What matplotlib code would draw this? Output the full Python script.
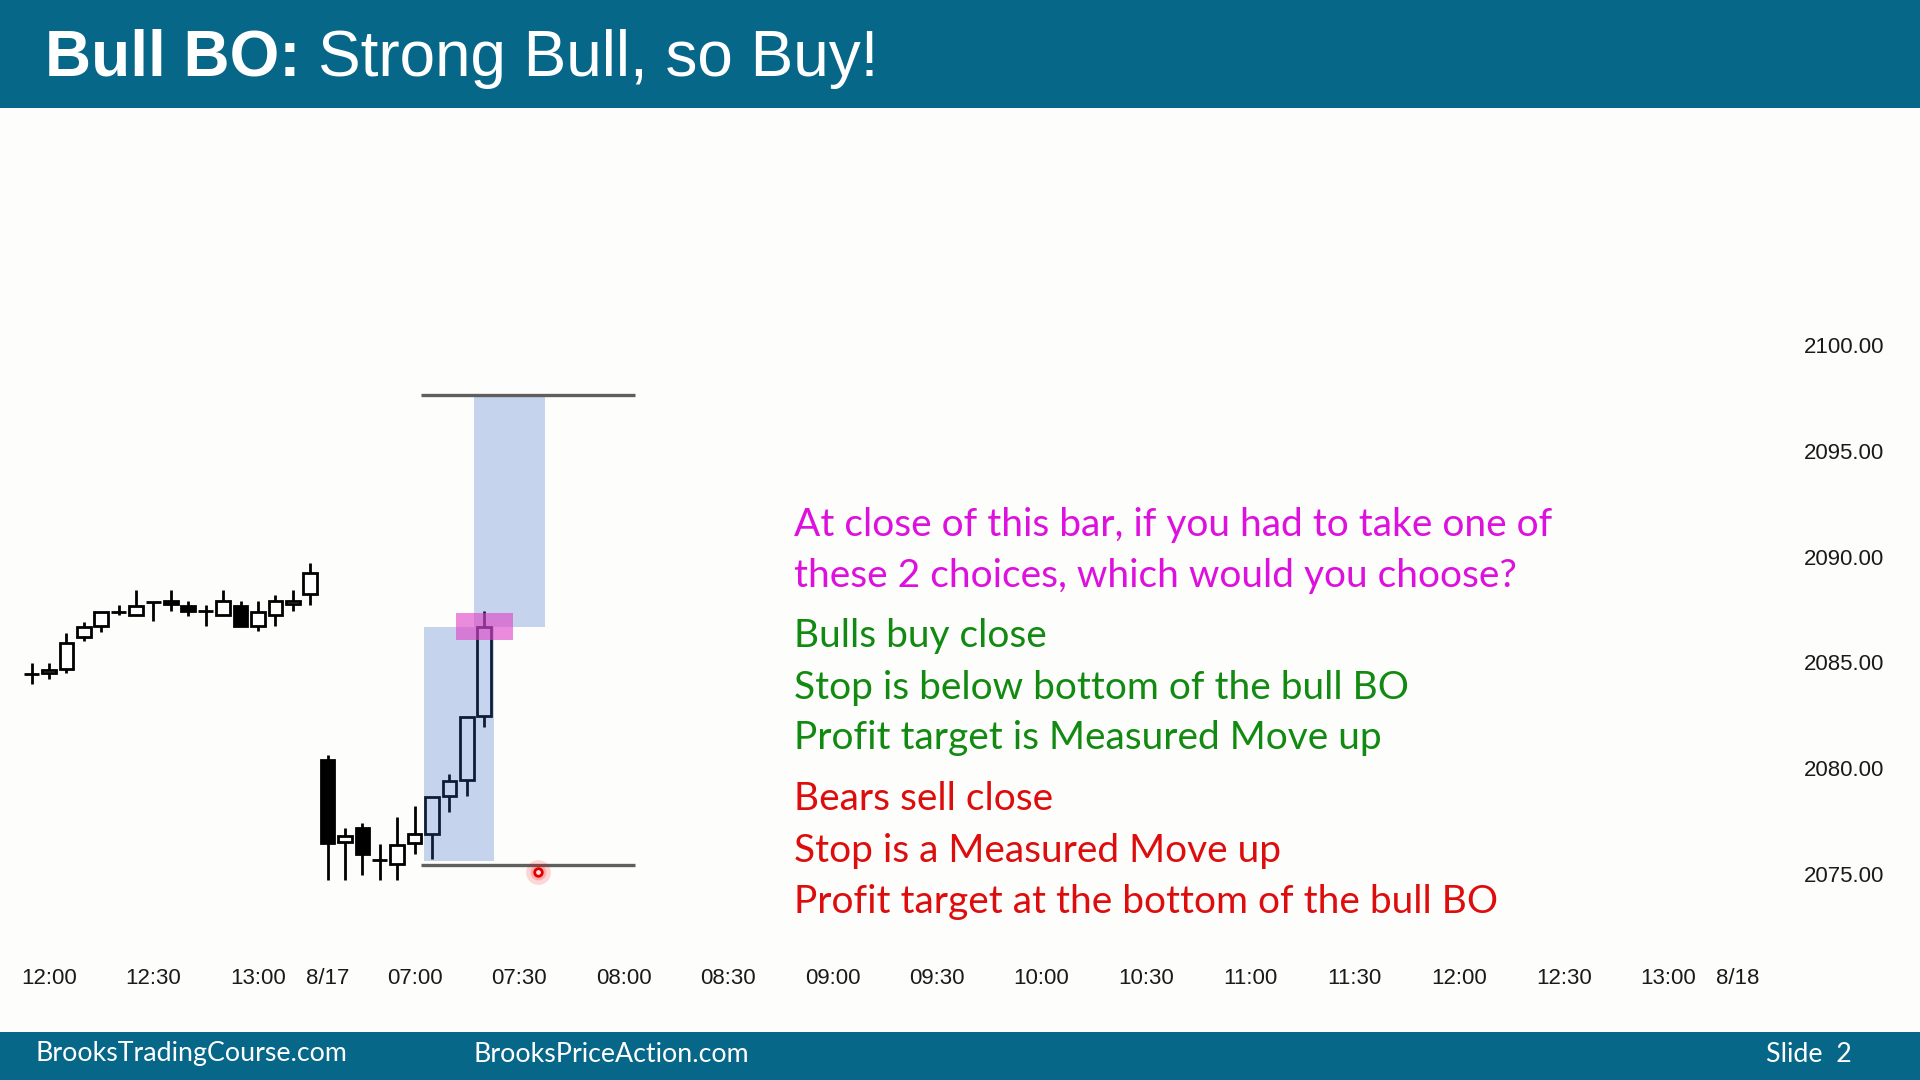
import matplotlib
matplotlib.use("Agg")
import matplotlib.pyplot as plt
from matplotlib.patches import Rectangle

# 5-min bars, index 0 = 12:00 of previous day, 16 = first bar of 8/17
bar_idx = list(range(-1, 26))
opens = [2084.45, 2084.5, 2084.7, 2086.2, 2086.7, 2087.4, 2087.25, 2087.85, 2087.9, 2087.65,
         2087.45, 2087.25, 2087.65, 2086.7, 2087.25, 2087.75, 2088.25,
         2080.4, 2076.5, 2077.15, 2075.65, 2075.45, 2076.45, 2076.9, 2078.7, 2079.45, 2082.45]
highs = [2084.95, 2084.95, 2086.4, 2086.9, 2087.4, 2087.7, 2088.4, 2087.85, 2088.4, 2087.9,
         2087.7, 2088.4, 2087.9, 2087.9, 2088.2, 2088.4, 2089.7,
         2080.6, 2077.15, 2077.4, 2076.4, 2077.7, 2078.2, 2078.65, 2079.7, 2082.4, 2087.45]
lows = [2084.0, 2084.2, 2084.5, 2086.0, 2086.45, 2087.25, 2087.25, 2086.95, 2087.45, 2087.2,
        2086.7, 2087.25, 2086.7, 2086.5, 2086.7, 2087.45, 2087.7,
        2074.7, 2074.7, 2074.95, 2074.7, 2074.7, 2075.95, 2075.7, 2077.95, 2078.7, 2081.95]
closes = [2084.45, 2084.65, 2085.9, 2086.65, 2087.4, 2087.4, 2087.65, 2087.85, 2087.75, 2087.45,
          2087.45, 2087.9, 2086.7, 2087.4, 2087.9, 2087.9, 2089.2,
          2076.45, 2076.8, 2075.95, 2075.65, 2076.35, 2076.9, 2078.65, 2079.4, 2082.4, 2086.65]

xtick_pos = [0, 6, 12, 16, 21, 27, 33, 39, 45, 51, 57, 63, 69, 75, 81, 87, 93, 97]
xtick_labels = ['12:00', '12:30', '13:00', '8/17', '07:00', '07:30', '08:00', '08:30', '09:00',
                '09:30', '10:00', '10:30', '11:00', '11:30', '12:00', '12:30', '13:00', '8/18']
ytick_vals = [2075, 2080, 2085, 2090, 2095, 2100]

# measured move annotation
bo_low, bo_close, mm_top = 2075.6, 2086.65, 2097.65
line_levels = [2097.65, 2075.4]
signal_hi, signal_lo = 2087.35, 2086.05
click_x, click_y = 28.06, 2075.1

question = ["At close of this bar, if you had to take one of",
            "these 2 choices, which would you choose?"]
bull_lines = ["Bulls buy close",
              "Stop is below bottom of the bull BO",
              "Profit target is Measured Move up"]
bear_lines = ["Bears sell close",
              "Stop is a Measured Move up",
              "Profit target at the bottom of the bull BO"]

bg = '#fdfdfb'
teal = '#076788'

fig = plt.figure(figsize=(19.2, 10.8), dpi=100, facecolor=bg)
ax = fig.add_axes([0, 125 / 1080, 1790 / 1920, 835 / 1080])
ax.set_facecolor(bg)

# candles
bw = 0.78
for i, o, h, l, c in zip(bar_idx, opens, highs, lows, closes):
    ax.vlines(i, l, h, color='black', lw=2.0, zorder=2)
    if abs(c - o) < 0.05:
        ax.hlines(o, i - bw / 2 - 0.05, i + bw / 2 + 0.05, color='black', lw=2.0, zorder=3)
    else:
        face = 'white' if c > o else 'black'
        ax.add_patch(Rectangle((i - bw / 2, min(o, c)), bw, abs(c - o), facecolor=face,
                               edgecolor='black', lw=2.0, zorder=3))

# measured move boxes and lines
ax.add_patch(Rectangle((21.54, bo_low), 4.02, bo_close - bo_low, facecolor='#3867c7',
                       alpha=0.28, lw=0, zorder=4))
ax.add_patch(Rectangle((24.41, bo_close), 4.08, mm_top - bo_close, facecolor='#3867c7',
                       alpha=0.28, lw=0, zorder=4))
ax.add_patch(Rectangle((23.38, signal_lo), 3.25, signal_hi - signal_lo, facecolor='#e040c8',
                       alpha=0.6, lw=0, zorder=5))
for lvl in line_levels:
    ax.hlines(lvl, 21.37, 33.66, color='#5f5f5f', lw=2.4, zorder=4)

# click marker
ax.scatter([click_x], [click_y], s=320, color='red', alpha=0.15, lw=0, zorder=6)
ax.scatter([click_x], [click_y], s=130, color='red', alpha=0.2, lw=0, zorder=6)
ax.scatter([click_x], [click_y], s=30, facecolor='#ffe0e0', edgecolor='#e00000', lw=2.0, zorder=7)

ax.set_xlim(-2.814, 100.0)
ax.set_ylim(2071.17, 2110.63)
for s in ax.spines.values():
    s.set_visible(False)
ax.yaxis.tick_right()
ax.set_yticks(ytick_vals)
ax.set_yticklabels([f'{v:.2f}' for v in ytick_vals])
ax.set_xticks(xtick_pos)
ax.set_xticklabels(xtick_labels)
ax.tick_params(axis='y', length=0, pad=10, labelsize=16, labelcolor='#1a1a1a')
ax.tick_params(axis='x', length=0, pad=9, labelsize=16, labelcolor='#1a1a1a')
for lab in ax.get_xticklabels() + ax.get_yticklabels():
    lab.set_fontfamily('Liberation Sans')

# header and footer bars
fig.add_artist(Rectangle((0, 1 - 108 / 1080), 1, 108 / 1080, transform=fig.transFigure,
                         color=teal, lw=0))
fig.add_artist(Rectangle((0, 0), 1, 48 / 1080, transform=fig.transFigure, color=teal, lw=0))
fig.text(45 / 1920, 1 - 76 / 1080, 'Bull BO:', color='white', fontsize=46, weight='bold',
         family='Liberation Sans', va='baseline')
fig.text(318 / 1920, 1 - 76 / 1080, 'Strong Bull, so Buy!', color='white', fontsize=46,
         family='Liberation Sans', va='baseline')

foot_y = 1 - 1054 / 1080
fig.text(35 / 1920, foot_y, 'BrooksTradingCourse.com', color='white', fontsize=19.3,
         family='Lato', va='center')
fig.text(474 / 1920, foot_y, 'BrooksPriceAction.com', color='white', fontsize=19.3,
         family='Lato', va='center')
fig.text(1766 / 1920, foot_y, 'Slide  2', color='white', fontsize=19.3, family='Lato',
         va='center')

# question text block
tx = 794 / 1920
baselines = [536, 587, 647, 699, 749, 810, 862, 913]
texts = question + bull_lines + bear_lines
colors = ['#dd10dd'] * 2 + ['#128a12'] * 3 + ['#dd0d0d'] * 3
for t, yb, col in zip(texts, baselines, colors):
    fig.text(tx, 1 - yb / 1080, t, color=col, fontsize=28, family='Lato', va='baseline')

fig.savefig('out.png', dpi=100, facecolor=bg)
